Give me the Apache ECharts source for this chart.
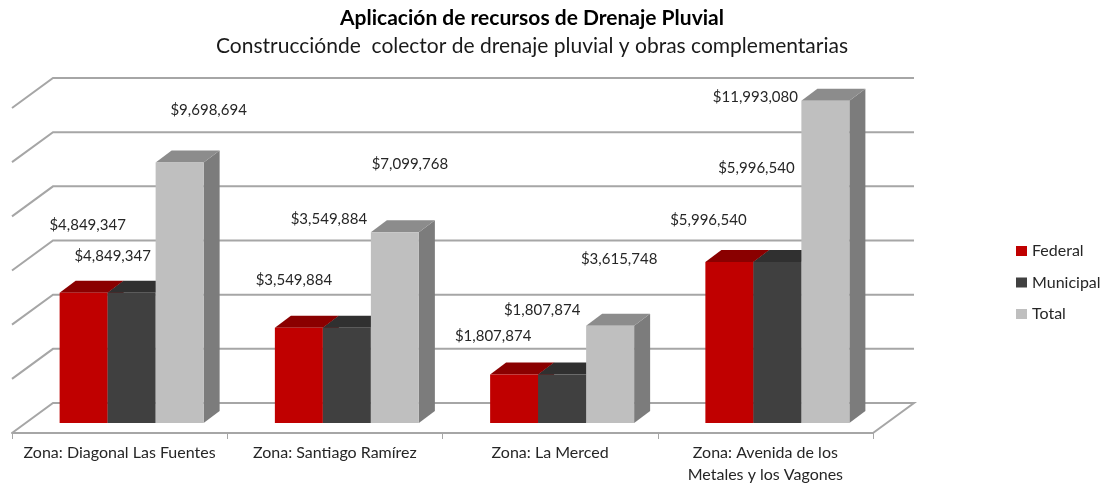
<!DOCTYPE html>
<html><head><meta charset="utf-8">
<style>html,body{margin:0;padding:0;background:#fff}#c{width:1109px;height:485px}</style>
<script src="https://cdn.jsdelivr.net/npm/echarts@6/dist/echarts.min.js"></script>
</head><body><div id="c"></div>
<script>
const categories = ['Zona: Diagonal Las Fuentes', 'Zona: Santiago Ramírez', 'Zona: La Merced', 'Zona: Avenida de los\nMetales y los Vagones'];
const federal = [4849347, 3549884, 1807874, 5996540];
const municipal = [4849347, 3549884, 1807874, 5996540];
const total = [9698694, 7099768, 3615748, 11993080];
const yTicks = [0, 2000000, 4000000, 6000000, 8000000, 10000000, 12000000];

const FONT = 'Lato, "Open Sans", sans-serif';
// Oblique projection of the pseudo-3D chart
const WALL = [41, -30], BAR_BASE = [12, -10], BAR_DEPTH = [16, -12], HEIGHT_K = 0.992, BAR_FRAC = 0.223;
// Manual label displacement from each bar's top centre, per category
const labelShift = {
  Federal: [[4, -68], [-5, -47], [-21, -38], [-21, -42]],
  Municipal: [[-19, -37], [-18, -108], [-20, -64], [-21, -94]],
  Total: [[29, -52], [15, -68], [9, -67], [-70, -4]]
};
const money = v => '$' + v.toLocaleString('en-US');

function poly(points, fill) {
  return { type: 'polygon', shape: { points }, style: { fill, stroke: null } };
}
function barSeries(name, values, slot, front, top, side) {
  return {
    type: 'custom', name, data: values.map((v, i) => [i, v]), clip: false, silent: true,
    itemStyle: { color: front }, z: 3 + slot,
    encode: { x: 0, y: 1 },
    renderItem(params, api) {
      const i = api.value(0), v = api.value(1);
      const base = api.coord([i, 0]), peak = api.coord([i, v]);
      const w = api.size([1, 0])[0] * BAR_FRAC;
      const l = base[0] + BAR_BASE[0] + (slot - 1.5) * w, r = l + w;
      const y0 = base[1] + BAR_BASE[1];
      const y1 = y0 + (peak[1] - base[1]) * HEIGHT_K;
      const [dx, dy] = BAR_DEPTH;
      const [sx, sy] = labelShift[name][i];
      return {
        type: 'group',
        children: [
          poly([[r, y0], [r + dx, y0 + dy], [r + dx, y1 + dy], [r, y1]], side),
          poly([[l, y1], [l + dx, y1 + dy], [r + dx, y1 + dy], [r, y1]], top),
          poly([[l, y0], [r, y0], [r, y1], [l, y1]], front),
          { type: 'text', z2: 50, style: {
              x: (l + r) / 2 + sx, y: y1 + sy, text: money(v),
              font: '15px ' + FONT, fill: '#262626', align: 'center', verticalAlign: 'middle' } }
        ]
      };
    }
  };
}
const wallSeries = {
  type: 'custom', name: 'wall', data: yTicks.map(v => [0, v]), clip: false, silent: true, z: 1,
  encode: { x: 0, y: 1 },
  renderItem(params, api) {
    const v = api.value(1), y = api.coord([0, v])[1];
    const x0 = params.coordSys.x, x1 = x0 + params.coordSys.width;
    const points = [[x0, y], [x0 + WALL[0], y + WALL[1]], [x1 + WALL[0], y + WALL[1]]];
    if (v === 0) points.push([x1, y]);
    return { type: 'polyline', shape: { points }, style: { stroke: '#a6a6a6', lineWidth: 2, fill: null } };
  }
};

const chart = echarts.init(document.getElementById('c'), null, { renderer: 'canvas' });
chart.setOption({
  animation: false,
  backgroundColor: '#fff',
  title: {
    text: 'Aplicación de recursos de Drenaje Pluvial',
    subtext: 'Construcciónde  colector de drenaje pluvial y obras complementarias',
    left: 527, top: 3, textAlign: 'center', itemGap: 7,
    textStyle: { fontFamily: FONT, fontSize: 21, fontWeight: 'bold', color: '#000' },
    subtextStyle: { fontFamily: FONT, fontSize: 21, color: '#1a1a1a' }
  },
  legend: {
    data: ['Federal', 'Municipal', 'Total'], orient: 'vertical', left: 1011, top: 238,
    icon: 'rect', itemWidth: 11, itemHeight: 10, itemGap: 15.5, selectedMode: false,
    textStyle: { fontFamily: FONT, fontSize: 16, color: '#262626' }
  },
  grid: { left: 12, right: 236, top: 108, bottom: 52, outerBoundsMode: 'none' },
  xAxis: {
    type: 'category', data: categories,
    axisLine: { lineStyle: { color: '#a6a6a6', width: 2 } },
    axisTick: { show: true, alignWithLabel: false, length: 6, lineStyle: { color: '#a6a6a6', width: 1 } },
    axisLabel: { fontFamily: FONT, fontSize: 16, color: '#262626', margin: 9, lineHeight: 22, interval: 0 }
  },
  yAxis: {
    type: 'value', min: 0, max: 12000000, interval: 2000000,
    axisLine: { show: false }, axisTick: { show: false }, axisLabel: { show: false }, splitLine: { show: false }
  },
  series: [
    wallSeries,
    barSeries('Federal', federal, 0, '#c00000', '#8a0000', '#8a0000'),
    barSeries('Municipal', municipal, 1, '#404040', '#303030', '#303030'),
    barSeries('Total', total, 2, '#bfbfbf', '#8c8c8c', '#7c7c7c')
  ]
});
</script></body></html>
